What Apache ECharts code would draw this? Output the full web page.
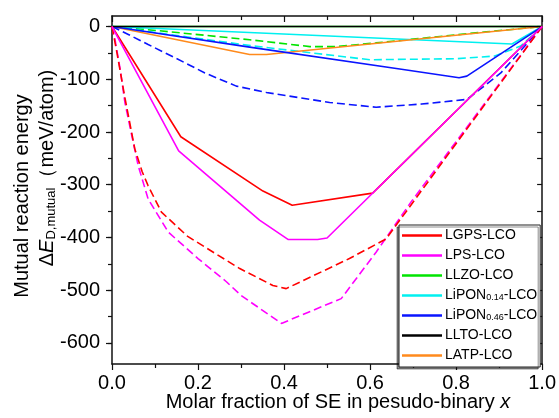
<!DOCTYPE html>
<html>
<head>
<meta charset="utf-8">
<script src="https://cdn.jsdelivr.net/npm/echarts@6/dist/echarts.min.js"></script>
<style>
  html, body { margin: 0; padding: 0; background: #fff; }
  #main { width: 559px; height: 418px; }
</style>
</head>
<body>
<div id="main"></div>
<script>
// 数据 (x = 固态电解质摩尔分数, y = meV/atom)
var lgps      = [[0,0],[0.16,-209],[0.351,-312],[0.419,-339],[0.606,-316],[1,0]];
var lps       = [[0,0],[0.155,-236],[0.343,-367],[0.41,-404],[0.478,-404],[0.5,-401],[1,0]];
var lgpsDash  = [[0,0],[0.012,-52],[0.03,-135],[0.053,-232],[0.07,-275],[0.084,-302],[0.115,-352],[0.176,-398],[0.297,-459],[0.374,-491],[0.405,-497],[0.552,-440],[0.637,-403],[1,0]];
var lpsDash   = [[0,0],[0.007,-25],[0.019,-81],[0.03,-144],[0.046,-207],[0.061,-264],[0.084,-327],[0.131,-390],[0.2,-440],[0.266,-484],[0.3,-510],[0.394,-563],[0.533,-516],[0.614,-428],[0.695,-333],[1,0]];
var llzo      = [[0,0],[1,0]];
var llzoDash  = [[0,0],[0.11,-8],[0.32,-25],[0.46,-38],[0.52,-38],[0.614,-31],[0.87,-10],[1,0]];
var lipon14   = [[0,0],[0.93,-33],[1,0]];
var lipon14Dash = [[0,0],[0.33,-37],[0.6,-63],[0.8,-61],[0.89,-56],[0.95,-37],[1,0]];
var lipon46   = [[0,0],[0.32,-39],[0.673,-81],[0.807,-97],[0.825,-94],[1,0]];
var lipon46Dash = [[0,0],[0.038,-15],[0.084,-34],[0.146,-59],[0.216,-88],[0.289,-113],[0.359,-125],[0.506,-144],[0.614,-153],[0.72,-147],[0.826,-138],[0.904,-88],[1,0]];
var llto      = [[0,0],[1,0]];
var latp      = [[0,0],[0.32,-53],[0.359,-53],[1,0]];

var legendNames = ['LGPS-LCO','LPS-LCO','LLZO-LCO','LiPON0.14-LCO','LiPON0.46-LCO','LLTO-LCO','LATP-LCO'];
var yMajor = [0,-100,-200,-300,-400,-500,-600];
var yMinor = [0,-50,-100,-150,-200,-250,-300,-350,-400,-450,-500,-550,-600];

var FONT = '"Liberation Sans", Arial, sans-serif';

function line(name, data, color, dashed) {
    return {
        name: name,
        type: 'line',
        data: data,
        symbol: 'none',
        silent: true,
        lineStyle: { color: color, width: 1.6, type: dashed ? [8, 4] : 'solid' },
        itemStyle: { color: color }
    };
}

function yAx(pos, vals, len, inside, label, showLine) {
    return {
        type: 'value', min: -640, max: 20, position: pos, offset: 0,
        axisLine: { show: showLine, onZero: false, lineStyle: { color: '#111', width: 1.5 } },
        axisTick: { show: true, inside: inside, length: len, customValues: vals, lineStyle: { color: '#111', width: 1.2 } },
        axisLabel: { show: label, customValues: vals, fontSize: 20, fontFamily: FONT, color: '#000', margin: 12 },
        splitLine: { show: false }
    };
}

var myChart = echarts.init(document.getElementById('main'));

myChart.setOption({
    animation: false,
    backgroundColor: '#fff',
    grid: { left: 112, right: 16, top: 16, bottom: 54, containLabel: false },
    xAxis: [{
        type: 'value', min: 0, max: 1, interval: 0.2, position: 'bottom',
        axisLine: { onZero: false, lineStyle: { color: '#111', width: 1.5 } },
        axisTick: { inside: false, length: 6, lineStyle: { color: '#111', width: 1.2 } },
        minorTick: { show: true, splitNumber: 2, length: 4, lineStyle: { color: '#111', width: 1.2 } },
        axisLabel: { fontSize: 20, fontFamily: FONT, color: '#000', margin: 9,
            formatter: function (v) { return v.toFixed(1); } },
        splitLine: { show: false }
    }, {
        type: 'value', min: 0, max: 1, interval: 0.2, position: 'top',
        axisLine: { onZero: false, lineStyle: { color: '#111', width: 1.5 } },
        axisTick: { inside: true, length: 6, lineStyle: { color: '#111', width: 1.2 } },
        minorTick: { show: true, splitNumber: 2, length: 4, lineStyle: { color: '#111', width: 1.2 } },
        axisLabel: { show: false },
        splitLine: { show: false }
    }],
    yAxis: [
        yAx('left', yMajor, 6, false, true, true),
        yAx('left', yMinor, 4, false, false, false),
        yAx('right', yMinor, 5, true, false, true)
    ],
    legend: {
        data: legendNames,
        orient: 'vertical',
        left: 399, top: 225,
        icon: 'rect',
        itemWidth: 40, itemHeight: 2.5, itemGap: 3,
        padding: [2, 3, 3, 3],
        backgroundColor: '#fff',
        borderColor: '#222', borderWidth: 1,
        shadowColor: 'rgba(0,0,0,0.45)', shadowBlur: 0, shadowOffsetX: -2, shadowOffsetY: 2,
        textStyle: {
            fontSize: 14, fontFamily: FONT, color: '#000', lineHeight: 17, padding: [0, 0, 0, -2],
            rich: {
                n: { fontSize: 14, fontFamily: FONT, color: '#000', lineHeight: 17 },
                s: { fontSize: 9, fontFamily: FONT, color: '#000', lineHeight: 17, padding: [5, 0, 0, 0] }
            }
        },
        formatter: function (name) {
            var m = name.match(/^LiPON(0\.\d+)(-LCO)$/);
            if (m) return '{n|LiPON}{s|' + m[1] + '}{n|' + m[2] + '}';
            return '{n|' + name + '}';
        }
    },
    graphic: [{
        type: 'text', x: 22, y: 196, rotation: Math.PI / 2,
        style: { text: 'Mutual reaction energy', font: '20px ' + FONT, fill: '#000', align: 'center', verticalAlign: 'middle' }
    }, {
        type: 'text', x: 47, y: 168, rotation: Math.PI / 2,
        style: {
            text: '{n|Δ}{i|E}{s|D,mutual}{n|（meV/atom)}', fill: '#000', align: 'center', verticalAlign: 'middle',
            rich: {
                n: { fontSize: 20, fontFamily: FONT, lineHeight: 24 },
                i: { fontSize: 20, fontFamily: FONT, fontStyle: 'italic', lineHeight: 24 },
                s: { fontSize: 13, fontFamily: FONT, lineHeight: 24, padding: [8, 0, 0, 0] }
            }
        }
    }, {
        type: 'text', x: 338, y: 402,
        style: {
            text: '{n|Molar fraction of SE in pesudo-binary }{i|x}', fill: '#000', align: 'center', verticalAlign: 'middle',
            rich: {
                n: { fontSize: 20, fontFamily: FONT },
                i: { fontSize: 20, fontFamily: FONT, fontStyle: 'italic' }
            }
        }
    }],
    series: [
        line('LLZO-LCO', llzo, '#00e400', false),
        line('LLZO-LCO dash', llzoDash, '#00e400', true),
        line('LiPON0.14-LCO', lipon14, '#00f0f0', false),
        line('LiPON0.14-LCO dash', lipon14Dash, '#00f0f0', true),
        line('LATP-LCO', latp, '#ff8a1c', false),
        line('LiPON0.46-LCO', lipon46, '#0a14ff', false),
        line('LiPON0.46-LCO dash', lipon46Dash, '#0a14ff', true),
        line('LLTO-LCO', llto, '#000000', false),
        line('LPS-LCO dash', lpsDash, '#ff00ff', true),
        line('LGPS-LCO dash', lgpsDash, '#ff0000', true),
        line('LGPS-LCO', lgps, '#ff0000', false),
        line('LPS-LCO', lps, '#ff00ff', false)
    ]
});
</script>
</body>
</html>
